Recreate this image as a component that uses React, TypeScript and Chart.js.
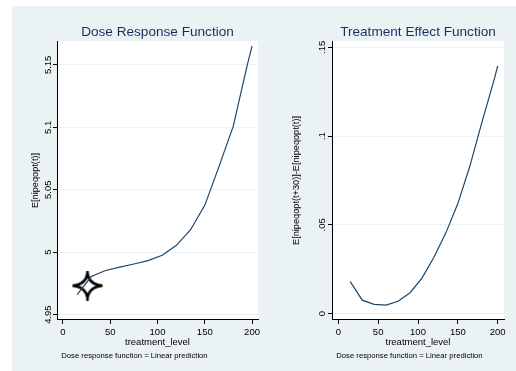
import React, { useEffect, useRef } from "react";
import { Chart, registerables } from "chart.js";

Chart.register(...registerables);

const treatmentLevels = [15, 30, 45, 60, 75, 90, 105, 120, 135, 150, 165, 180, 195, 200];
const doseResponse = [4.966, 4.9805, 4.9853, 4.988, 4.9905, 4.9932, 4.9975, 5.0055, 5.018, 5.0375, 5.0685, 5.1005, 5.15, 5.165];
const treatmentEffect = [0.018, 0.0076, 0.0052, 0.0048, 0.007, 0.0118, 0.02, 0.0318, 0.0455, 0.062, 0.083, 0.1075, 0.131, 0.1395];

const xTicks = [0, 50, 100, 150, 200];
const drfTicks = [4.95, 5, 5.05, 5.1, 5.15];
const drfTickLabels = ["4.95", "5", "5.05", "5.1", "5.15"];
const tefTicks = [0, 0.05, 0.1, 0.15];
const tefTickLabels = ["0", ".05", ".1", ".15"];

const markerPoint = [{ x: 25.9, y: 4.9732 }];

const FONT = "'Liberation Sans', Arial, Helvetica, sans-serif";
const LINE_COLOR = "#1a476f";
const TITLE_COLOR = "#1a2f5e";
const GRID_COLOR = "#eaf2f3";
const NOTE = "Dose response function = Linear prediction";

function makeStar(): HTMLCanvasElement {
  const c = document.createElement("canvas");
  c.width = 34;
  c.height = 30;
  const ctx = c.getContext("2d")!;
  const cx = 17, cy = 15, hx = 15, hy = 13, w = 1.2;
  ctx.beginPath();
  ctx.moveTo(cx, cy - hy);
  ctx.quadraticCurveTo(cx + w, cy - w, cx + hx, cy);
  ctx.quadraticCurveTo(cx + w, cy + w, cx, cy + hy);
  ctx.quadraticCurveTo(cx - w, cy + w, cx - hx, cy);
  ctx.quadraticCurveTo(cx - w, cy - w, cx, cy - hy);
  ctx.closePath();
  ctx.fillStyle = "#fff";
  ctx.fill();
  ctx.lineWidth = 2.6;
  ctx.lineJoin = "miter";
  ctx.strokeStyle = "#000";
  ctx.stroke();
  return c;
}

const plotBg = {
  id: "plotBg",
  beforeDraw(chart: any) {
    const { ctx, chartArea: a } = chart;
    ctx.save();
    ctx.fillStyle = "#ffffff";
    ctx.fillRect(a.left, a.top, a.right - a.left, a.bottom - a.top);
    ctx.restore();
  },
};

type PanelProps = {
  left: number;
  width: number;
  title: string;
  yTitle: string;
  xs: number[];
  ys: number[];
  xMin: number;
  xMax: number;
  yMin: number;
  yMax: number;
  yTicks: number[];
  yLabels: string[];
  yAxisWidth: number;
  yTitlePad: number;
  yLabelPad: number;
  rightPad: number;
  withStar: boolean;
};

function Panel(p: PanelProps) {
  const ref = useRef<HTMLCanvasElement>(null);
  useEffect(() => {
    if (!ref.current) return;
    const datasets: any[] = [
      {
        data: p.xs.map((x, i) => ({ x, y: p.ys[i] })),
        borderColor: LINE_COLOR,
        borderWidth: 1.2,
        pointRadius: 0,
        fill: false,
        tension: 0,
      },
    ];
    if (p.withStar) {
      datasets.push({
        data: markerPoint,
        showLine: false,
        pointStyle: makeStar(),
        pointRadius: 15,
        borderWidth: 0,
        clip: false,
      });
    }
    const chart = new Chart(ref.current, {
      type: "line",
      data: { datasets },
      plugins: [plotBg],
      options: {
        animation: false,
        responsive: false,
        devicePixelRatio: 1,
        layout: { autoPadding: false, padding: { left: 0, right: p.rightPad, top: 0, bottom: 0 } },
        plugins: {
          legend: { display: false },
          tooltip: { enabled: false },
          title: {
            display: true,
            text: p.title,
            fullSize: false,
            color: TITLE_COLOR,
            font: { family: FONT, size: 13.6, weight: "normal" },
            padding: { top: 17.8, bottom: 1.0 },
          },
          subtitle: {
            display: true,
            text: "  " + NOTE,
            position: "bottom",
            align: "start",
            fullSize: false,
            color: "#000",
            font: { family: FONT, size: 7.7, weight: "normal" },
            padding: { top: 0, bottom: 10.9 },
          },
        },
        scales: {
          x: {
            type: "linear",
            min: p.xMin,
            max: p.xMax,
            afterBuildTicks: (s: any) => {
              s.ticks = xTicks.map((v) => ({ value: v }));
            },
            afterFit: (s: any) => {
              s.height = 31;
              s.paddingLeft = 0;
              s.paddingRight = 0;
              s.paddingTop = 0;
              s.paddingBottom = 0;
            },
            ticks: {
              color: "#000",
              font: { family: FONT, size: 9.5 },
              padding: 3,
              maxRotation: 0,
              minRotation: 0,
              autoSkip: false,
              callback: (v: any) => String(v),
            },
            grid: {
              display: true,
              drawOnChartArea: false,
              drawTicks: true,
              tickLength: 4,
              color: "#000",
              lineWidth: 1,
            },
            border: { display: true, color: "#000", width: 1 },
            title: {
              display: true,
              text: "treatment_level",
              color: "#000",
              font: { family: FONT, size: 9.5 },
              padding: { top: 0, bottom: 3 },
            },
          },
          y: {
            type: "linear",
            min: p.yMin,
            max: p.yMax,
            afterBuildTicks: (s: any) => {
              s.ticks = p.yTicks.map((v) => ({ value: v }));
            },
            afterFit: (s: any) => {
              s.width = p.yAxisWidth;
              s.paddingLeft = 0;
              s.paddingRight = 0;
              s.paddingTop = 0;
              s.paddingBottom = 0;
            },
            ticks: {
              color: "#000",
              font: { family: FONT, size: 9.5 },
              minRotation: 90,
              maxRotation: 90,
              crossAlign: "center",
              padding: p.yLabelPad,
              autoSkip: false,
              callback: (_v: any, i: number) => p.yLabels[i],
            },
            grid: {
              display: true,
              drawOnChartArea: true,
              drawTicks: true,
              tickLength: 4,
              color: GRID_COLOR,
              tickColor: "#000",
              lineWidth: 1,
            },
            border: { display: true, color: "#000", width: 1 },
            title: {
              display: true,
              text: p.yTitle,
              color: "#000",
              font: { family: FONT, size: 9.2 },
              padding: { top: p.yTitlePad, bottom: 0 },
            },
          },
        },
      } as any,
    });
    return () => chart.destroy();
  }, []);
  return (
    <canvas
      ref={ref}
      width={p.width}
      height={365}
      style={{ position: "absolute", left: p.left, top: 6, width: p.width, height: 365 }}
    />
  );
}

export default function App() {
  return (
    <div
      style={{
        position: "fixed",
        left: 0,
        top: 0,
        width: 516,
        height: 371,
        background: "#ffffff",
        overflow: "hidden",
      }}
    >
      <div
        style={{
          position: "absolute",
          left: 12,
          top: 6,
          width: 504,
          height: 365,
          background: GRID_COLOR,
        }}
      />
      <Panel
        left={12}
        width={254}
        title="Dose Response Function"
        yTitle="E[nipeqopt(t)]"
        xs={treatmentLevels}
        ys={doseResponse}
        xMin={-6.3}
        xMax={206.3}
        yMin={4.9458}
        yMax={5.169}
        yTicks={drfTicks}
        yLabels={drfTickLabels}
        yAxisWidth={45}
        yTitlePad={17.5}
        yLabelPad={-4.75}
        rightPad={8}
        withStar={true}
      />
      <Panel
        left={266}
        width={250}
        title="Treatment Effect Function"
        yTitle="E[nipeqopt(t+30)]-E[nipeqopt(t)]"
        xs={treatmentLevels}
        ys={treatmentEffect}
        xMin={-7.9}
        xMax={207.9}
        yMin={-0.0035}
        yMax={0.1535}
        yTicks={tefTicks}
        yLabels={tefTickLabels}
        yAxisWidth={66}
        yTitlePad={24.5}
        yLabelPad={-0.6}
        rightPad={12}
        withStar={false}
      />
    </div>
  );
}
